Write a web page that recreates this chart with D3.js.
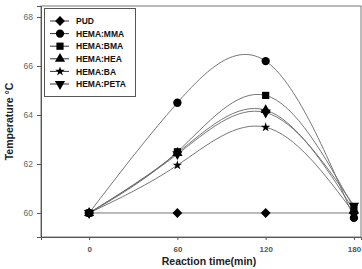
<!DOCTYPE html>
<html>
<head>
<meta charset="utf-8">
<script src="https://cdn.jsdelivr.net/npm/d3@7"></script>
<style>
body { margin: 0; background: #fff; }
svg { display: block; font-family: "Liberation Sans", Arial, sans-serif; }
</style>
</head>
<body>
<div id="chart"></div>
<script>
var times = [0, 60, 120, 180];
var seriesNames = ["PUD", "HEMA:MMA", "HEMA:BMA", "HEMA:HEA", "HEMA:BA", "HEMA:PETA"];
var pud = [60, 60, 60, 60];
var mma = [60, 64.5, 66.2, 59.8];
var bma = [60, 62.5, 64.8, 60.2];
var hea = [60, 62.45, 64.2, 60.1];
var ba = [60, 61.95, 63.5, 60.0];
var peta = [60, 62.4, 64.1, 60.3];
var xTicks = [0, 60, 120, 180];
var yTicks = [60, 62, 64, 66, 68];

var allSeries = [pud, mma, bma, hea, ba, peta];
var symbols = [d3.symbolSquare, d3.symbolCircle, d3.symbolSquare, d3.symbolTriangle, d3.symbolStar, d3.symbolTriangle];
var rotations = [45, 0, 0, 0, 0, 180];
var symSize = [48, 55, 52, 45, 28, 45];

var W = 362, H = 269;
var plotL = 41, plotR = 361, plotT = 6, plotB = 237;

var svg = d3.select("#chart").append("svg")
    .attr("width", W)
    .attr("height", H);

var x = d3.scaleLinear().domain([-32.7, 184.8]).range([plotL, plotR]);
var y = d3.scaleLinear().domain([59.02, 68.45]).range([plotB, plotT]);

// frame
svg.append("rect")
    .attr("x", plotL).attr("y", plotT)
    .attr("width", plotR - plotL).attr("height", plotB - plotT)
    .attr("fill", "none").attr("stroke", "#777").attr("stroke-width", 1);

// axes
var yAxis = d3.axisLeft(y).tickValues(yTicks).tickSize(4).tickPadding(4);
var gy = svg.append("g").attr("transform", "translate(" + plotL + ",0)").call(yAxis);
gy.select(".domain").attr("stroke", "#555");
gy.selectAll(".tick line").attr("stroke", "#555");
gy.selectAll(".tick text").attr("fill", "#666").style("font-size", "8.5px");

var xAxis = d3.axisBottom(x).tickValues(xTicks).tickSize(3).tickPadding(6);
var gx = svg.append("g").attr("transform", "translate(0," + plotB + ")").call(xAxis);
gx.select(".domain").attr("stroke", "#555");
gx.selectAll(".tick line").attr("stroke", "#555");
gx.selectAll(".tick text").attr("fill", "#555").style("font-size", "8px").style("font-weight", "bold");

// axis titles
svg.append("text")
    .attr("x", 209).attr("y", 265)
    .attr("text-anchor", "middle")
    .style("font-size", "10.5px").style("font-weight", "bold").attr("fill", "#222")
    .text("Reaction time(min)");

svg.append("text")
    .attr("transform", "translate(13," + ((plotT + plotB) / 2) + ") rotate(-90)")
    .attr("text-anchor", "middle")
    .style("font-size", "10.5px").style("font-weight", "bold").attr("fill", "#222")
    .text("Temperature \u00B0C");

// lines
var line = d3.line()
    .x(function(d, i) { return x(times[i]); })
    .y(function(d) { return y(d); })
    .curve(d3.curveNatural);

svg.append("g").selectAll("path")
    .data(allSeries)
    .join("path")
    .attr("d", line)
    .attr("fill", "none")
    .attr("stroke", "#666")
    .attr("stroke-width", 0.9);

// markers
allSeries.forEach(function(s, k) {
    svg.append("g").selectAll("path")
        .data(s)
        .join("path")
        .attr("transform", function(d, i) {
            return "translate(" + x(times[i]) + "," + y(d) + ") rotate(" + rotations[k] + ")";
        })
        .attr("d", d3.symbol().type(symbols[k]).size(symSize[k]))
        .attr("fill", "#000");
});

// legend
var lg = svg.append("g");
lg.append("rect")
    .attr("x", 44.5).attr("y", 8.5)
    .attr("width", 91).attr("height", 88)
    .attr("fill", "#fff").attr("stroke", "#555").attr("stroke-width", 1);

var rowY = d3.scaleLinear().domain([0, 5]).range([21, 84]);
seriesNames.forEach(function(name, k) {
    var yy = rowY(k);
    lg.append("line")
        .attr("x1", 50).attr("x2", 69).attr("y1", yy).attr("y2", yy)
        .attr("stroke", "#333").attr("stroke-width", 1);
    lg.append("path")
        .attr("transform", "translate(60," + yy + ") rotate(" + rotations[k] + ")")
        .attr("d", d3.symbol().type(symbols[k]).size(symSize[k]))
        .attr("fill", "#000");
    lg.append("text")
        .attr("x", 76).attr("y", yy + 3.2)
        .style("font-size", "8.5px").style("font-weight", "bold")
        .attr("fill", "#111")
        .text(name);
});
</script>
</body>
</html>
